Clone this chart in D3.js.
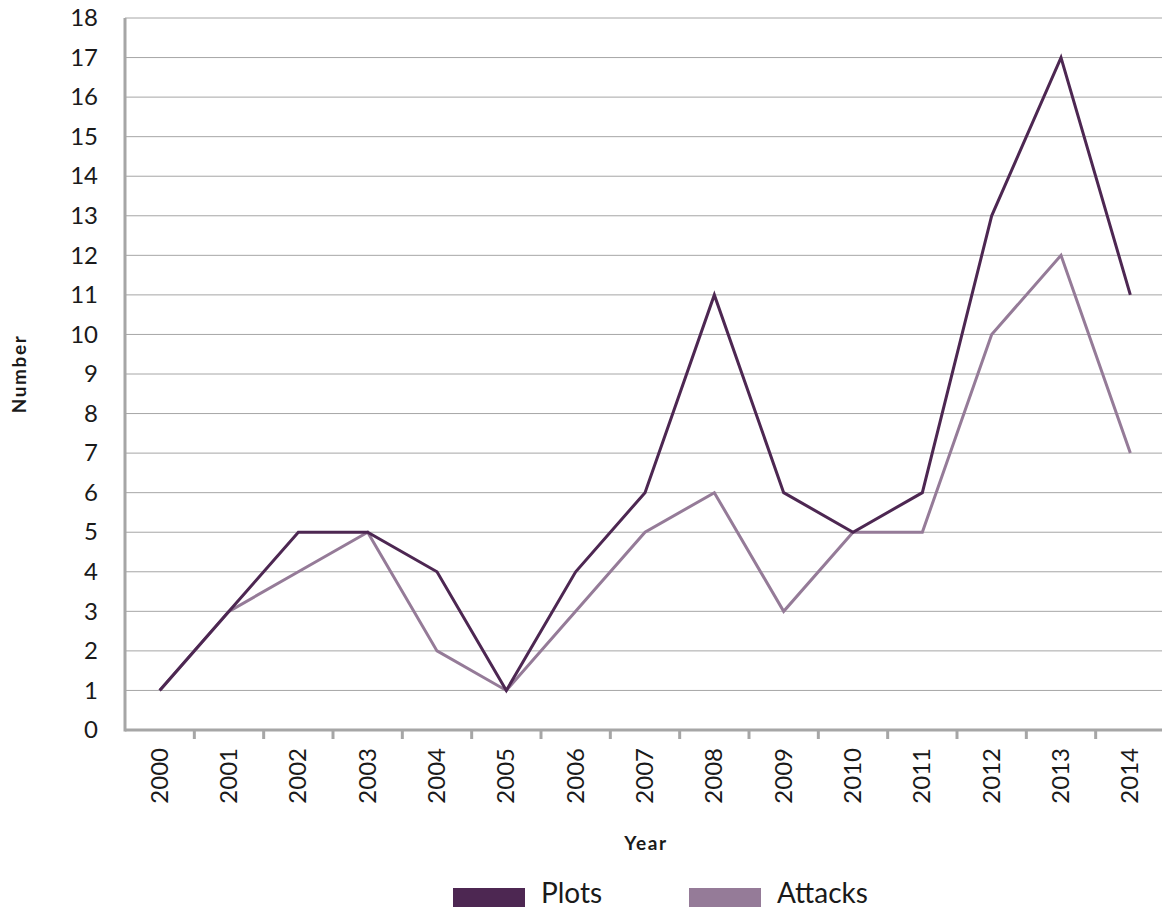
<!DOCTYPE html>
<html>
<head>
<meta charset="utf-8">
<script src="https://cdn.jsdelivr.net/npm/d3@7"></script>
<style>
  body { margin: 0; background: #fff; }
  text { font-family: Lato, "Open Sans", sans-serif; fill: #1a1a1a; }
</style>
</head>
<body>
<svg width="1162" height="908"></svg>
<script>
var years = ["2000","2001","2002","2003","2004","2005","2006","2007","2008","2009","2010","2011","2012","2013","2014"];
var plots = [1, 3, 5, 5, 4, 1, 4, 6, 11, 6, 5, 6, 13, 17, 11];
var attacks = [1, 3, 4, 5, 2, 1, 3, 5, 6, 3, 5, 5, 10, 12, 7];
var yTickValues = d3.range(0, 19);

var svg = d3.select("svg");
var mLeft = 125, mRight = 1165, mTop = 18, mBottom = 730;

var x = d3.scaleBand().domain(years).range([mLeft, mRight]);
var y = d3.scaleLinear().domain([0, 18]).range([mBottom, mTop]);

// grid lines
svg.append("g").selectAll("line")
    .data(yTickValues.filter(function (d) { return d > 0; }))
    .enter().append("line")
    .attr("x1", mLeft).attr("x2", mRight)
    .attr("y1", function (d) { return y(d); })
    .attr("y2", function (d) { return y(d); })
    .attr("stroke", "#a6a6a6").attr("stroke-width", 1);

// y axis
var yAxis = d3.axisLeft(y).tickValues(yTickValues).tickSize(0).tickPadding(27);
var gy = svg.append("g").attr("transform", "translate(" + mLeft + ",0)").call(yAxis);
gy.select(".domain").remove();
gy.selectAll("text").style("font-size", "24px").attr("fill", "#1a1a1a")
    .style("font-family", "Lato, sans-serif");

// x axis
var gx = svg.append("g").attr("transform", "translate(0," + mBottom + ")");
gx.append("g").selectAll("line")
    .data(years.slice(1))
    .enter().append("line")
    .attr("x1", function (d) { return x(d); })
    .attr("x2", function (d) { return x(d); })
    .attr("y1", 0).attr("y2", 9)
    .attr("stroke", "#a6a6a6").attr("stroke-width", 3);
gx.append("g").selectAll("text")
    .data(years)
    .enter().append("text")
    .attr("transform", function (d) {
        return "translate(" + (x(d) + x.bandwidth() / 2 + 8) + ",18) rotate(-90)";
    })
    .attr("text-anchor", "end")
    .style("font-size", "24px")
    .text(function (d) { return d; });

svg.append("line")
    .attr("x1", mLeft).attr("x2", mRight)
    .attr("y1", mBottom).attr("y2", mBottom)
    .attr("stroke", "#a6a6a6").attr("stroke-width", 3);
svg.append("line")
    .attr("x1", mLeft).attr("x2", mLeft)
    .attr("y1", mTop).attr("y2", mBottom + 1.5)
    .attr("stroke", "#a6a6a6").attr("stroke-width", 3);

// lines
var line = d3.line()
    .x(function (d, i) { return x(years[i]) + x.bandwidth() / 2; })
    .y(function (d) { return y(d); });

svg.append("path").datum(attacks)
    .attr("d", line).attr("fill", "none")
    .attr("stroke", "#957b98").attr("stroke-width", 3);
svg.append("path").datum(plots)
    .attr("d", line).attr("fill", "none")
    .attr("stroke", "#4d2752").attr("stroke-width", 3);

// axis titles
svg.append("text")
    .attr("transform", "translate(26," + 374 + ") rotate(-90)")
    .attr("text-anchor", "middle")
    .style("font-size", "19px").style("font-weight", "bold")
    .style("letter-spacing", "1.6px")
    .text("Number");
svg.append("text")
    .attr("x", 646).attr("y", 850)
    .attr("text-anchor", "middle")
    .style("font-size", "19px").style("font-weight", "bold")
    .style("letter-spacing", "1.6px")
    .text("Year");

// legend
var legend = [
    { name: "Plots", color: "#4d2752", x: 453 },
    { name: "Attacks", color: "#957b98", x: 689 }
];
var lg = svg.append("g").selectAll("g").data(legend).enter().append("g");
lg.append("rect")
    .attr("x", function (d) { return d.x; })
    .attr("y", 888).attr("width", 72).attr("height", 19)
    .attr("fill", function (d) { return d.color; });
lg.append("text")
    .attr("x", function (d) { return d.x + 88; })
    .attr("y", 903)
    .style("font-size", "28px")
    .text(function (d) { return d.name; });
</script>
</body>
</html>
